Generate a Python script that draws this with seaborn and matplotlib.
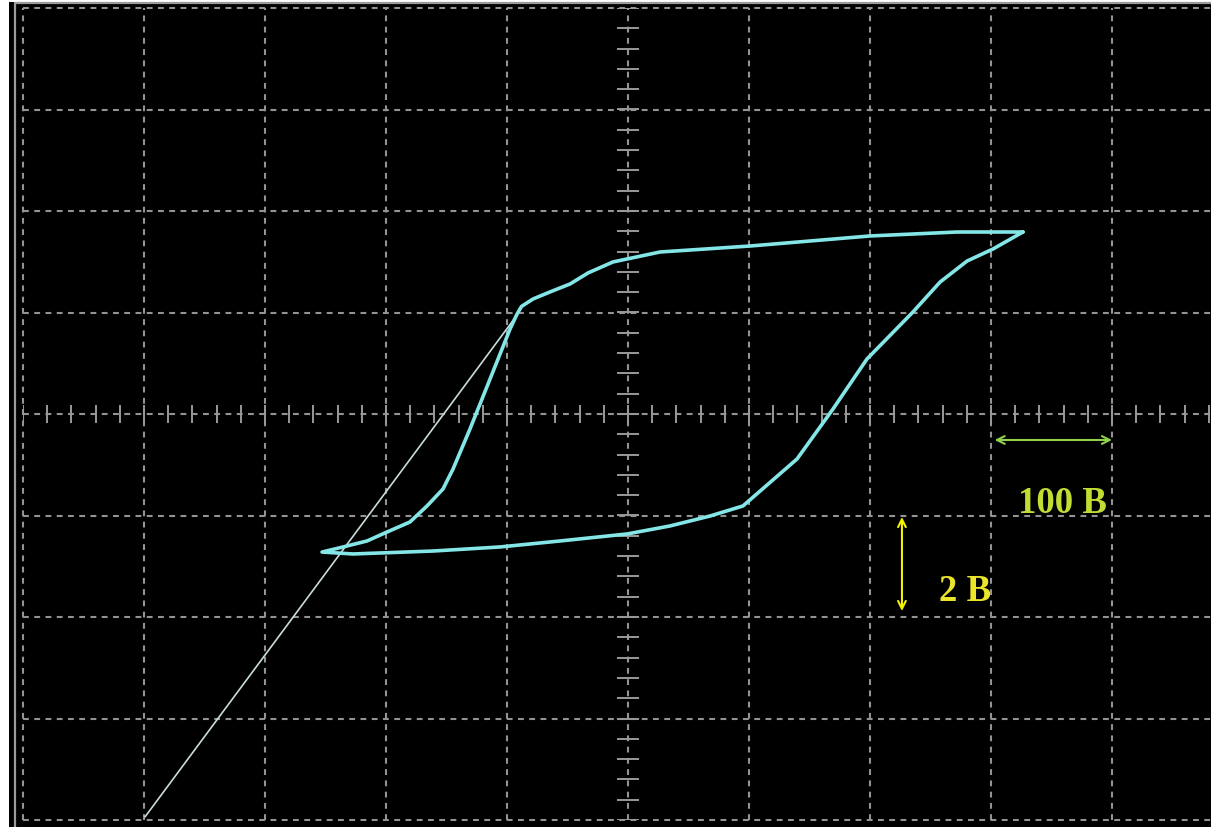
import numpy as np
import pandas as pd
import matplotlib
matplotlib.use("Agg")
import matplotlib.pyplot as plt
from matplotlib.patches import Rectangle
from matplotlib.lines import Line2D
import seaborn as sns

# ---- data (oscilloscope divisions) ----
upper_x = [3.264, 2.719, 2.000, 1.008, 0.264, -0.124, -0.330, -0.479, -0.650, -0.785, -0.880,
           -0.917, -0.975, -1.140, -1.306, -1.446, -1.529, -1.661, -1.802, -1.992, -2.157,
           -2.355, -2.529]
upper_y = [1.793, 1.793, 1.754, 1.655, 1.596, 1.498, 1.390, 1.281, 1.200, 1.133, 1.060,
           0.985, 0.837, 0.345, -0.148, -0.542, -0.739, -0.906, -1.064, -1.163, -1.251,
           -1.310, -1.360]
lower_x = [-2.529, -2.273, -1.612, -1.058, -0.562, -0.008, 0.347, 0.678, 0.950, 1.397,
           1.694, 1.975, 2.355, 2.579, 2.802, 3.017, 3.264]
lower_y = [-1.360, -1.379, -1.350, -1.310, -1.251, -1.182, -1.103, -1.005, -0.906, -0.443,
           0.049, 0.542, 1.005, 1.300, 1.507, 1.626, 1.793]
line_x = [-3.992, -0.917]
line_y = [-3.970, 0.975]

x_scale_label = "100 B"
y_scale_label = "2 B"

# ---- figure ----
sns.set_style("dark")
fig = plt.figure(figsize=(12.11, 8.28), dpi=100, facecolor="white")
W, H = 1211, 828
# black scope screen background
fig.patches.append(Rectangle((9 / W, 0), 1 - 9 / W, 1 - 3 / H, transform=fig.transFigure,
                             facecolor="black", edgecolor="none", zorder=-2))
fig.lines.append(Line2D([15 / W, 15 / W], [0, 1 - 3.5 / H], transform=fig.transFigure,
                        color="#9a9a9a", lw=1.6, zorder=-1))
fig.lines.append(Line2D([15 / W, 1], [1 - 3.5 / H, 1 - 3.5 / H], transform=fig.transFigure,
                        color="#9a9a9a", lw=1.6, zorder=-1))

ax = fig.add_axes([23 / W, 7 / H, 1210 / W, 812 / H])
ax.set_facecolor("black")
ax.patch.set_alpha(0)
ax.set_xlim(-5, 5)
ax.set_ylim(-4, 4)
for s in ax.spines.values():
    s.set_visible(False)
ax.set_xticks([])
ax.set_yticks([])
ax.grid(False)

grid_kw = dict(color="#939393", lw=1.5, linestyle=(0, (2.8, 2.6)), clip_on=False, zorder=1)
for gx in range(-5, 6):
    ax.axvline(gx, **grid_kw)
for gy in range(-4, 5):
    ax.axhline(gy, **grid_kw)

# center-axis minor ticks
tick_kw = dict(color="#9a9a9a", lw=1.4, zorder=1)
tx = np.arange(-5, 5.01, 0.2)
ax.vlines(tx, -0.085, 0.085, **tick_kw)
ty = np.arange(-4, 4.01, 0.2)
ax.hlines(ty, -0.095, 0.095, **tick_kw)

# straight line
df_line = pd.DataFrame({"x": line_x, "y": line_y})
sns.lineplot(data=df_line, x="x", y="y", sort=False, color="#c9dcdc", lw=1.2, ax=ax,
             zorder=3, estimator=None)

# hysteresis loop
loop = pd.DataFrame({"x": upper_x + lower_x[1:], "y": upper_y + lower_y[1:]})
sns.lineplot(data=loop, x="x", y="y", sort=False, color="#84e6e6", lw=2.6, ax=ax,
             zorder=4, estimator=None)
ax.set_xlabel("")
ax.set_ylabel("")

# scale annotations
ax.annotate("", xy=(3.03, -0.256), xytext=(4.0, -0.256),
            arrowprops=dict(arrowstyle="<->", color="#8fd24c", lw=1.5,
                            shrinkA=0, shrinkB=0, mutation_scale=14), zorder=5)
ax.text(3.587, -0.867, x_scale_label, color="#c2dc34", fontsize=26.5, fontweight="bold",
        family="Liberation Serif", ha="center", va="center", zorder=5)
ax.annotate("", xy=(2.264, -1.015), xytext=(2.264, -1.941),
            arrowprops=dict(arrowstyle="<->", color="#f4f200", lw=1.5,
                            shrinkA=0, shrinkB=0, mutation_scale=14), zorder=5)
ax.text(2.785, -1.734, y_scale_label, color="#ece42a", fontsize=26.5, fontweight="bold",
        family="Liberation Serif", ha="center", va="center", zorder=5)

fig.savefig("out.png", dpi=100, facecolor=fig.get_facecolor())
